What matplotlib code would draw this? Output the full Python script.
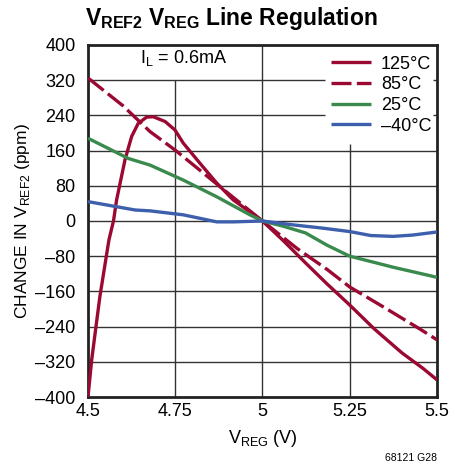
import matplotlib
matplotlib.use("Agg")
import matplotlib.pyplot as plt
from matplotlib import font_manager

# pick a narrow sans if one is around
names = {f.name for f in font_manager.fontManager.ttflist}
FONT = "Liberation Sans Narrow" if "Liberation Sans Narrow" in names else "Liberation Sans"
plt.rcParams["font.family"] = [FONT, "DejaVu Sans"]

# line regulation data, ppm vs V_REG
v_125 = [4.50, 4.5105, 4.534, 4.56, 4.573, 4.582, 4.606, 4.625, 4.644, 4.668, 4.687, 4.721,
         4.749, 4.773, 4.821, 4.869, 4.916, 5.00, 5.06, 5.123, 5.185, 5.25, 5.32, 5.40, 5.46, 5.50]
d_125 = [-400, -316, -172, -43, 0, 48, 139, 192, 222, 236, 237, 226,
         207, 177, 131, 86, 48, 0, -45, -95, -143, -191, -245, -300, -335, -361]

v_85 = [4.50, 4.60, 4.678, 4.75, 4.90, 5.00, 5.10, 5.185, 5.25, 5.35, 5.45, 5.50]
d_85 = [325, 262, 203, 161, 64, 0, -63, -110, -150, -197, -245, -270]

v_25 = [4.50, 4.616, 4.678, 4.773, 4.869, 4.964, 5.00, 5.06, 5.123, 5.185, 5.25, 5.31, 5.374, 5.44, 5.50]
d_25 = [188, 142, 127, 93, 55, 14, 0, -12, -27, -55, -80, -92, -105, -117, -128]

v_m40 = [4.50, 4.635, 4.678, 4.773, 4.821, 4.869, 4.916, 5.00, 5.09, 5.17, 5.25, 5.31, 5.374, 5.43, 5.50]
d_m40 = [44, 25, 23, 14, 6, -2, -2, 0, -9, -16, -24, -33, -35, -32, -25]

series = [
    ("125°C", v_125, d_125, "#9b0933", "-"),
    ("85°C", v_85, d_85, "#9b0933", (0, (6, 1.6))),
    ("25°C", v_25, d_25, "#3a8a4e", "-"),
    ("–40°C", v_m40, d_m40, "#3d5fac", "-"),
]

x_ticks = [4.5, 4.75, 5, 5.25, 5.5]
x_labels = ["4.5", "4.75", "5", "5.25", "5.5"]
y_ticks = list(range(-400, 401, 80))
y_labels = [str(v).replace("-", "–") for v in y_ticks]

fig = plt.figure(figsize=(4.55, 4.70), dpi=100)
ax = fig.add_axes([0.1934, 0.1553, 0.7670, 0.7490])

# grid, left open behind the label and the legend
g = dict(color="#333333", lw=1.0, zorder=1)
ax.vlines(4.75, -400, 320, **g)
ax.vlines(5.0, -400, 400, **g)
ax.vlines(5.25, -400, 175, **g)
for y in y_ticks[1:-1]:
    if y >= 240:
        ax.hlines(y, 4.5, 5.18, **g)
        ax.hlines(y, 5.49, 5.5, **g)
    else:
        ax.hlines(y, 4.5, 5.5, **g)

for label, xs, ys, col, ls in series:
    ax.plot(xs, ys, color=col, lw=2.4, ls=ls, label=label, zorder=3,
            solid_capstyle="butt", dash_capstyle="butt")

ax.set_xlim(4.5, 5.5)
ax.set_ylim(-400, 400)
ax.set_xticks(x_ticks)
ax.set_xticklabels(x_labels)
ax.set_yticks(y_ticks)
ax.set_yticklabels(y_labels)
ax.tick_params(axis="x", length=0, labelsize=13, pad=4)
ax.tick_params(axis="y", length=0, labelsize=13, pad=9)
for s in ax.spines.values():
    s.set_linewidth(2)
    s.set_color("#222222")

ax.text(4.775, 370, r"I$_\mathregular{L}$ = 0.6mA", ha="center", va="center", fontsize=13)

leg = ax.legend(loc="upper right", bbox_to_anchor=(1.0, 0.985), frameon=False, fontsize=13,
                handlelength=2.2, handletextpad=0.55, labelspacing=0.2,
                borderaxespad=0.0, borderpad=0.3)

ax.set_xlabel(r"V$_\mathregular{REG}$ (V)", fontsize=13, labelpad=6)
ax.set_ylabel(r"CHANGE IN V$_\mathregular{REF2}$ (ppm)", fontsize=12.5, labelpad=2)

fig.text(0.187, 0.960, r"V$_\mathregular{REF2}$ V$_\mathregular{REG}$ Line Regulation",
         fontsize=16.5, fontweight="bold", ha="left", va="center")
fig.text(0.96, 0.025, "68121 G28", fontsize=7.5, ha="right", va="center")

fig.savefig("out.png", dpi=100)
